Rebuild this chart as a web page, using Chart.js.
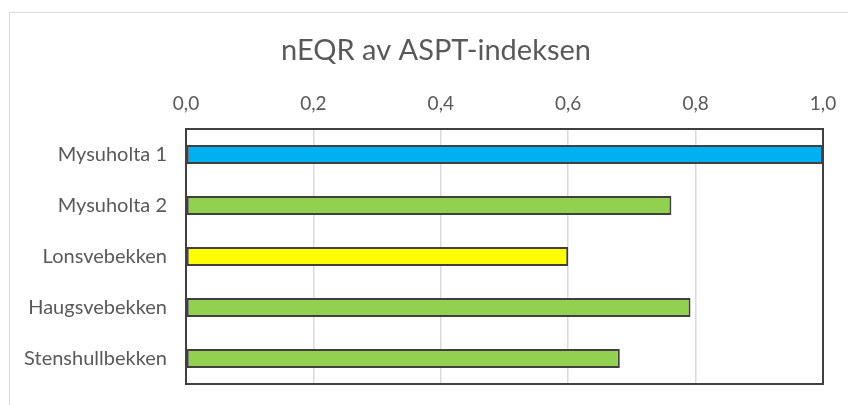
<!DOCTYPE html>
<html>
<head>
<meta charset="utf-8">
<script src="https://cdn.jsdelivr.net/npm/chart.js@4"></script>
<style>
  html, body { margin: 0; padding: 0; background: #fff; overflow: hidden; }
  #frame { position: absolute; left: 9px; top: 12px; width: 950px; height: 500px; border: 1px solid #d9d9d9; }
  #myChart { position: absolute; left: 0; top: 0; }
</style>
</head>
<body>
<div id="frame"></div>
<canvas id="myChart" width="848" height="405"></canvas>
<script>
const stations = ["Mysuholta 1", "Mysuholta 2", "Lonsvebekken", "Haugsvebekken", "Stenshullbekken"];
const neqr = [1.0, 0.762, 0.60, 0.792, 0.681];
const barColors = ["#00B0F0", "#92D050", "#FFFF00", "#92D050", "#92D050"];
const xTicks = [0, 0.2, 0.4, 0.6, 0.8, 1.0];
const chartTitle = "nEQR av ASPT-indeksen";

const textColor = "#595959";
const fontFamily = "Lato, 'Open Sans', sans-serif";

// title centred over the whole chart frame (which runs past the right edge)
const frameTitle = {
  id: "frameTitle",
  afterDraw(chart) {
    const ctx = chart.ctx;
    ctx.save();
    ctx.fillStyle = textColor;
    ctx.font = "29px " + fontFamily;
    ctx.textAlign = "center";
    ctx.textBaseline = "middle";
    ctx.fillText(chartTitle, 436, 51);
    ctx.restore();
  }
};

// frame around the plot area
const plotFrame = {
  id: "plotFrame",
  afterDatasetsDraw(chart) {
    const a = chart.chartArea;
    const ctx = chart.ctx;
    ctx.save();
    ctx.strokeStyle = "#404040";
    ctx.lineWidth = 2;
    ctx.strokeRect(a.left, a.top, a.right - a.left, a.bottom - a.top);
    ctx.restore();
  }
};

const ctx = document.getElementById("myChart").getContext("2d");
const chart = new Chart(ctx, {
  type: "bar",
  data: {
    labels: stations,
    datasets: [{
      data: neqr,
      backgroundColor: barColors,
      borderColor: "#404040",
      borderWidth: 2,
      borderSkipped: false,
      barPercentage: 0.37,
      categoryPercentage: 1.0
    }]
  },
  options: {
    indexAxis: "y",
    responsive: false,
    animation: false,
    layout: { padding: { left: 0, right: 25, top: 76, bottom: 21 } },
    plugins: {
      legend: { display: false },
      tooltip: { enabled: false },
      title: { display: false }
    },
    scales: {
      x: {
        position: "top",
        min: 0,
        max: 1,
        afterBuildTicks(scale) {
          scale.ticks = xTicks.map(v => ({ value: v }));
        },
        afterFit(scale) {
          scale.height = 53;
          scale.paddingLeft = 0;
          scale.paddingRight = 0;
        },
        ticks: {
          color: textColor,
          font: { family: fontFamily, size: 19 },
          padding: 14,
          callback: v => v.toFixed(1).replace(".", ",")
        },
        grid: { color: "#d9d9d9", lineWidth: 1.5, drawTicks: false },
        border: { display: false }
      },
      y: {
        afterFit(scale) {
          scale.width = 186;
          scale.paddingTop = 0;
          scale.paddingBottom = 0;
        },
        ticks: {
          color: textColor,
          font: { family: fontFamily, size: 20 },
          padding: 19
        },
        grid: { display: false, drawTicks: false },
        border: { display: false }
      }
    }
  },
  plugins: [plotFrame, frameTitle]
});
</script>
</body>
</html>
